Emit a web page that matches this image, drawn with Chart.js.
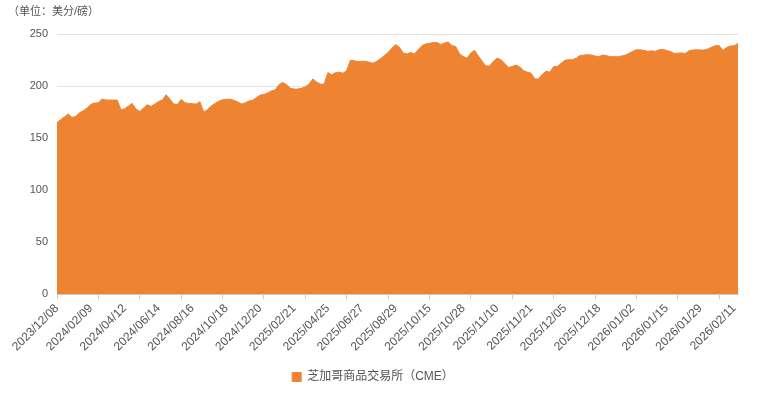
<!DOCTYPE html>
<html lang="zh">
<head>
  <meta charset="UTF-8">
  <title>芝加哥商品交易所（CME）</title>
  <script src="https://cdn.jsdelivr.net/npm/chart.js"></script>
  <style>
    body {
      margin: 0;
      background: #fff;
    }
    #wrap {
      width: 768px;
      height: 399px;
    }
  </style>
</head>
<body>
  <div id="wrap">
    <canvas id="cmeChart" width="768" height="399"></canvas>
  </div>

  <script>
    // dates: weekly until 2025/10/10, then daily trading days
    const dates = [
      '2023/12/08', '2023/12/15', '2023/12/22', '2023/12/29',
      '2024/01/05', '2024/01/12', '2024/01/19', '2024/01/26', '2024/02/02', '2024/02/09',
      '2024/02/16', '2024/02/23', '2024/03/01', '2024/03/08', '2024/03/15', '2024/03/22',
      '2024/03/29', '2024/04/05', '2024/04/12', '2024/04/19', '2024/04/26', '2024/05/03',
      '2024/05/10', '2024/05/17', '2024/05/24', '2024/05/31', '2024/06/07', '2024/06/14',
      '2024/06/21', '2024/06/28', '2024/07/05', '2024/07/12', '2024/07/19', '2024/07/26',
      '2024/08/02', '2024/08/09', '2024/08/16', '2024/08/23', '2024/08/30', '2024/09/06',
      '2024/09/13', '2024/09/20', '2024/09/27', '2024/10/04', '2024/10/11', '2024/10/18',
      '2024/10/25', '2024/11/01', '2024/11/08', '2024/11/15', '2024/11/22', '2024/11/29',
      '2024/12/06', '2024/12/13', '2024/12/20', '2024/12/27',
      '2025/01/03', '2025/01/10', '2025/01/17', '2025/01/24', '2025/01/31', '2025/02/07',
      '2025/02/14', '2025/02/21', '2025/02/28', '2025/03/07', '2025/03/14', '2025/03/21',
      '2025/03/28', '2025/04/04', '2025/04/11', '2025/04/18', '2025/04/25', '2025/05/02',
      '2025/05/09', '2025/05/16', '2025/05/23', '2025/05/30', '2025/06/06', '2025/06/13',
      '2025/06/20', '2025/06/27', '2025/07/04', '2025/07/11', '2025/07/18', '2025/07/25',
      '2025/08/01', '2025/08/08', '2025/08/15', '2025/08/22', '2025/08/29', '2025/09/05',
      '2025/09/12', '2025/09/19', '2025/09/26', '2025/10/03', '2025/10/10', '2025/10/13',
      '2025/10/14', '2025/10/15', '2025/10/16', '2025/10/17', '2025/10/20', '2025/10/21',
      '2025/10/22', '2025/10/23', '2025/10/24', '2025/10/27', '2025/10/28', '2025/10/29',
      '2025/10/30', '2025/10/31', '2025/11/03', '2025/11/04', '2025/11/05', '2025/11/06',
      '2025/11/07', '2025/11/10', '2025/11/11', '2025/11/12', '2025/11/13', '2025/11/14',
      '2025/11/17', '2025/11/18', '2025/11/19', '2025/11/20', '2025/11/21', '2025/11/24',
      '2025/11/25', '2025/11/26', '2025/11/28', '2025/12/01', '2025/12/02', '2025/12/03',
      '2025/12/04', '2025/12/05', '2025/12/08', '2025/12/09', '2025/12/10', '2025/12/11',
      '2025/12/12', '2025/12/15', '2025/12/16', '2025/12/17', '2025/12/18', '2025/12/19',
      '2025/12/22', '2025/12/23', '2025/12/24', '2025/12/26', '2025/12/29', '2025/12/30',
      '2025/12/31', '2026/01/02', '2026/01/05', '2026/01/06', '2026/01/07', '2026/01/08',
      '2026/01/09', '2026/01/12', '2026/01/13', '2026/01/14', '2026/01/15', '2026/01/16',
      '2026/01/20', '2026/01/21', '2026/01/22', '2026/01/23', '2026/01/26', '2026/01/27',
      '2026/01/28', '2026/01/29', '2026/01/30', '2026/02/02', '2026/02/03', '2026/02/04',
      '2026/02/05', '2026/02/06', '2026/02/09', '2026/02/10', '2026/02/11', '2026/02/12'
    ];

    // 美分/磅
    const cmePrice = [
      165.2, 167.9, 170.7, 173.3, 170.0, 171.0, 174.5, 176.4, 179.0, 182.5,
      183.8, 184.1, 187.7, 186.7, 186.7, 186.7, 186.7, 177.4, 178.4, 181.0,
      183.5, 178.0, 175.8, 179.0, 182.2, 180.6, 182.9, 185.4, 186.7, 191.8,
      187.7, 182.9, 182.5, 187.3, 184.1, 183.5, 183.2, 182.9, 185.1, 175.0,
      177.5, 181.0, 183.5, 185.5, 187.0, 187.5, 187.5, 186.5, 185.0, 183.0,
      184.0, 185.8, 186.5, 189.0, 191.5, 192.0, 193.5, 195.5, 196.5, 201.5,
      203.7, 201.5, 198.0, 197.3, 197.3, 198.0, 199.5, 202.0, 207.0, 204.0,
      202.1, 202.1, 213.0, 211.0, 213.0, 213.5, 212.5, 215.0, 225.0, 224.5,
      223.6, 224.0, 224.0, 223.0, 222.0, 224.0, 226.5, 229.5, 232.5, 236.5,
      240.0, 237.5, 232.0, 231.0, 232.5, 231.0, 235.0, 239.0, 240.6, 241.2,
      242.0, 242.0, 240.0, 241.5, 242.5, 239.0, 238.0, 231.0, 228.5, 227.0,
      232.0, 234.5, 229.0, 224.0, 219.5, 219.5, 224.0, 227.0, 225.5, 222.0,
      218.0, 219.0, 220.4, 218.5, 215.0, 213.5, 212.5, 207.0, 207.0, 211.5,
      214.5, 213.5, 219.0, 219.0, 222.0, 225.0, 225.5, 225.5, 227.0, 229.5,
      230.0, 230.3, 230.0, 229.0, 228.3, 230.0, 229.5, 228.4, 228.4, 228.4,
      229.0, 229.8, 231.5, 233.5, 235.0, 235.0, 234.5, 233.5, 234.0, 233.5,
      235.0, 235.5, 234.3, 233.5, 231.5, 231.8, 232.0, 231.5, 234.2, 234.8,
      235.1, 234.8, 234.8, 235.8, 237.5, 239.0, 239.0, 234.5, 237.3, 238.6,
      239.0, 241.2
    ];

    const yTicks = [0, 50, 100, 150, 200, 250];

    const orange = '#EE8432';
    const textColor = '#555';
    const fontFamily = 'Arial, "Liberation Sans", "Noto Sans CJK SC", sans-serif';

    const config = {
      type: 'line',
      data: {
        labels: dates,
        datasets: [{
          label: '芝加哥商品交易所（CME）',
          data: cmePrice,
          borderColor: orange,
          backgroundColor: orange,
          borderWidth: 1,
          pointRadius: 0,
          fill: 'origin',
          tension: 0
        }]
      },
      options: {
        responsive: false,
        animation: false,
        layout: {
          padding: { left: 8, right: 30, top: 0, bottom: 6 }
        },
        plugins: {
          title: {
            display: true,
            text: '（单位：美分/磅）',
            align: 'start',
            color: textColor,
            font: { family: fontFamily, size: 11, weight: 'normal' },
            padding: { top: 5, bottom: 16 }
          },
          legend: {
            position: 'bottom',
            labels: {
              boxWidth: 9,
              boxHeight: 9,
              color: textColor,
              font: { family: fontFamily, size: 12 },
              padding: 10
            }
          },
          tooltip: { enabled: false }
        },
        scales: {
          x: {
            grid: {
              drawOnChartArea: false,
              tickLength: 5,
              color: (c) => (c.index % 11 === 0 ? '#ccc' : 'rgba(0,0,0,0)')
            },
            border: { color: '#ccc' },
            afterFit: (scale) => {
              scale.height += 5;
            },
            ticks: {
              autoSkip: false,
              maxRotation: 45,
              minRotation: 45,
              padding: 2,
              color: textColor,
              font: { family: fontFamily, size: 12 },
              callback: function(value, index) {
                return index % 9 === 0 ? dates[index] : '';
              }
            }
          },
          y: {
            min: 0,
            max: 250,
            afterBuildTicks: (scale) => {
              scale.ticks = yTicks.map(v => ({ value: v }));
            },
            afterFit: (scale) => {
              scale.width = 49;
            },
            grid: {
              color: '#e3e3e3',
              drawTicks: false
            },
            border: { display: false },
            ticks: {
              padding: 9,
              color: textColor,
              font: { family: fontFamily, size: 11 }
            }
          }
        }
      }
    };

    const ctx = document.getElementById('cmeChart').getContext('2d');
    const chart = new Chart(ctx, config);
  </script>
</body>
</html>
